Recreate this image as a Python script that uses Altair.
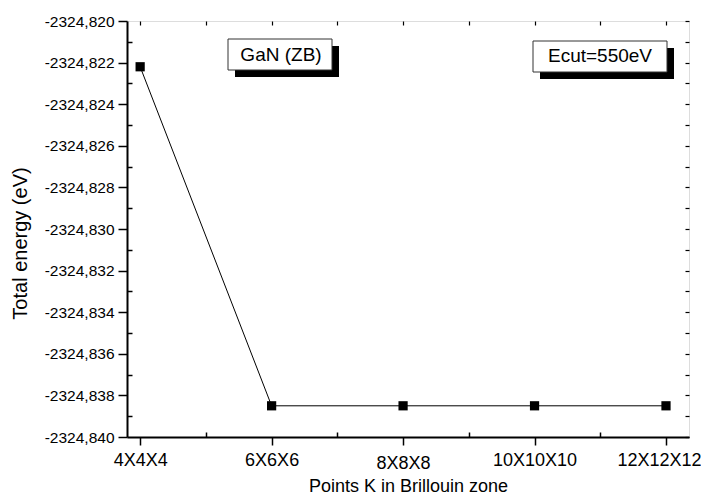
import altair as alt
import pandas as pd

# ---- data ----
kpoint_labels = ["4X4X4", "6X6X6", "8X8X8", "10X10X10", "12X12X12"]
kgrid = [4, 6, 8, 10, 12]
total_energy = [-2324.8222, -2324.8385, -2324.8385, -2324.8385, -2324.8385]

y_major = [round(-2324.840 + 0.002 * i, 3) for i in range(11)]
y_minor = [round(-2324.839 + 0.002 * i, 3) for i in range(10)]
y_all = [round(-2324.840 + 0.001 * i, 3) for i in range(21)]
x_minor = [5, 7, 9, 11]
x_all = [4, 5, 6, 7, 8, 9, 10, 11, 12]

annotation_texts = ["GaN (ZB)", "Ecut=550eV"]

df = pd.DataFrame({"k": kgrid, "label": kpoint_labels, "E": total_energy})

FONT = "Liberation Sans"
W, H = 562, 416

xscale = alt.Scale(domain=[3.8, 12.35], nice=False, zero=False)
yscale = alt.Scale(domain=[-2324.840, -2324.820], nice=False, zero=False)

x_label_expr = " : ".join(
    f"datum.value == {k} ? '{l}'" for k, l in zip(kgrid, kpoint_labels)
) + " : ''"
y_label_expr = "'-' + replace(format(abs(datum.value), '.3f'), '.', ',')"

line = alt.Chart(df).mark_line(color="black", strokeWidth=1).encode(
    x=alt.X(
        "k:Q",
        scale=xscale,
        axis=alt.Axis(
            orient="bottom", values=kgrid, labelExpr=x_label_expr,
            tickSize=8, tickWidth=1.5, tickColor="black",
            domainColor="black", domainWidth=2,
            labelFont=FONT, labelFontSize=18, labelColor="black",
            labelPadding={"condition": {"test": "datum.value == 8", "value": 9}, "value": 6},
            labelOffset={"condition": {"test": "datum.value == 12", "value": -7},
                         "value": 0},
            title="Points K in Brillouin zone", titleFont=FONT, titleFontSize=18,
            titleFontWeight="normal", titleColor="black",
            titleY=54, titleBaseline="alphabetic", grid=False,
        ),
    ),
    y=alt.Y(
        "E:Q",
        scale=yscale,
        axis=alt.Axis(
            orient="left", values=y_major, labelExpr=y_label_expr,
            tickSize=9, tickWidth=1.5, tickColor="black",
            domainColor="black", domainWidth=2,
            labelFont=FONT, labelFontSize=15.5, labelColor="black", labelPadding=4,
            title="Total energy (eV)", titleFont=FONT, titleFontSize=20,
            titleFontWeight="normal", titleColor="black",
            titleX=-97, titleY=222, grid=False,
        ),
    ),
)

points = alt.Chart(df).mark_square(size=85, color="black", opacity=1).encode(
    x=alt.X(
        "k:Q", scale=xscale,
        axis=alt.Axis(orient="bottom", values=x_minor, labels=False, domain=False,
                      tickSize=5, tickWidth=1.5, tickColor="black", offset=-5,
                      title=None, grid=False),
    ),
    y=alt.Y(
        "E:Q", scale=yscale,
        axis=alt.Axis(orient="left", values=y_minor, labels=False, domain=False,
                      tickSize=5, tickWidth=1.5, tickColor="black", offset=-5,
                      title=None, grid=False),
    ),
)

frame = alt.Chart(df).mark_point(opacity=0).encode(
    x=alt.X(
        "k:Q", scale=xscale,
        axis=alt.Axis(orient="top", values=x_all, labels=False, domain=False,
                      tickSize=4, tickWidth=1.2, tickColor="black", offset=-4,
                      title=None, grid=False),
    ),
    y=alt.Y(
        "E:Q", scale=yscale,
        axis=alt.Axis(orient="right", values=y_all, labels=False, domain=False,
                      tickSize=4, tickWidth=1.2, tickColor="black", offset=-4,
                      title=None, grid=False),
    ),
)

# annotation boxes (pixel placement inside the plot area)
box_geom = [
    {"x": 101, "x2": 205, "y": 18, "y2": 49, "tx": 154, "ty": 34},
    {"x": 406, "x2": 540, "y": 20, "y2": 51, "tx": 473, "ty": 35},
]
SH = 7
ann_layers = []
for text, g in zip(annotation_texts, box_geom):
    adf = pd.DataFrame({"text": [text]})
    shadow = alt.Chart(adf).mark_rect(color="black").encode(
        x=alt.value(g["x"] + SH), x2=alt.value(g["x2"] + SH),
        y=alt.value(g["y"] + SH), y2=alt.value(g["y2"] + SH),
    )
    box = alt.Chart(adf).mark_rect(fill="white", stroke="#333333", strokeWidth=1).encode(
        x=alt.value(g["x"]), x2=alt.value(g["x2"]),
        y=alt.value(g["y"]), y2=alt.value(g["y2"]),
    )
    label = alt.Chart(adf).mark_text(
        font=FONT, fontSize=19, color="black", align="center", baseline="middle"
    ).encode(x=alt.value(g["tx"]), y=alt.value(g["ty"]), text="text:N")
    ann_layers += [shadow, box, label]

chart = alt.layer(line, points, frame, *ann_layers).resolve_axis(
    x="independent", y="independent"
).properties(
    width=W, height=H,
    autosize=alt.AutoSizeParams(type="none"),
    padding={"left": 119, "top": 13, "right": 12, "bottom": 57},
).configure_view(
    stroke="black", strokeWidth=1
).configure(background="white")

chart.save("out.html", embed_options={"renderer": "svg", "actions": False})
